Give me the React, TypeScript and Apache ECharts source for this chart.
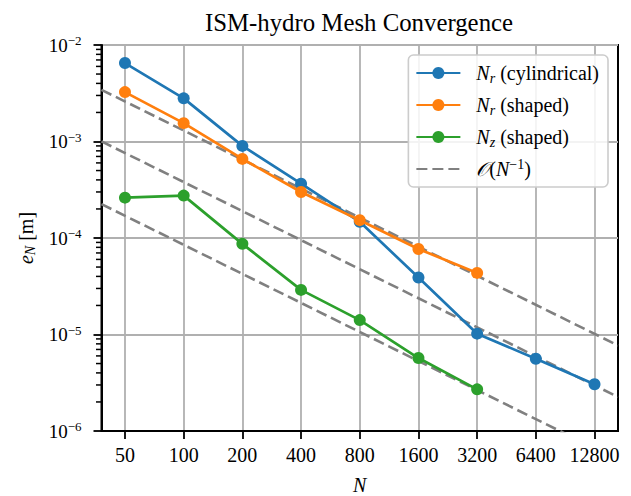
import React, { useEffect, useRef } from 'react';
import * as echarts from 'echarts';

// ---- data ----
const N_VALUES = [50, 100, 200, 400, 800, 1600, 3200, 6400, 12800];
const NR_CYLINDRICAL = [6.5e-3, 2.8e-3, 9.0e-4, 3.65e-4, 1.47e-4, 3.9e-5, 1.02e-5, 5.6e-6, 3.05e-6];
const N_SHAPED = [50, 100, 200, 400, 800, 1600, 3200];
const NR_SHAPED = [3.25e-3, 1.55e-3, 6.6e-4, 3.0e-4, 1.53e-4, 7.7e-5, 4.35e-5];
const NZ_SHAPED = [2.62e-4, 2.75e-4, 8.7e-5, 2.9e-5, 1.41e-5, 5.7e-6, 2.7e-6];
// O(N^-1) reference lines: e = C / N
const REF_CONSTANTS = [0.13, 0.038, 0.0085];
const Y_EXPONENTS = [-6, -5, -4, -3, -2];
const MINOR_MANTISSAS = [2, 3, 4, 5, 6, 7, 8, 9];
const X_PAD = 0.4; // axis margin, in doublings of N

const FONT = "'Liberation Serif', 'Times New Roman', serif";
const BLUE = '#1f77b4';
const ORANGE = '#ff7f0e';
const GREEN = '#2ca02c';
const GRAY = '#808080';
const GRID = '#b0b0b0';

const toX = (n: number) => Math.log2(n / N_VALUES[0]);

const NAME_CYL = 'N_r (cylindrical)';
const NAME_RS = 'N_r (shaped)';
const NAME_ZS = 'N_z (shaped)';
const NAME_REF = 'O(N^-1)';

const LEGEND_RICH: Record<string, string> = {
  [NAME_CYL]: '{i|N}{sub|r} (cylindrical)',
  [NAME_RS]: '{i|N}{sub|r} (shaped)',
  [NAME_ZS]: '{i|N}{sub|z} (shaped)',
  [NAME_REF]: '{cal|𝒪}({i|N}{sup|−1})',
};

const richBase = {
  i: { fontStyle: 'italic', fontSize: 20, lineHeight: 24, fontFamily: FONT, color: '#000' },
  sub: { fontStyle: 'italic', fontSize: 14, lineHeight: 14, verticalAlign: 'bottom', fontFamily: FONT, color: '#000' },
  sup: { fontSize: 14, lineHeight: 14, verticalAlign: 'top', fontFamily: FONT, color: '#000' },
  cal: { fontStyle: 'italic', fontSize: 20, lineHeight: 24, fontFamily: FONT, color: '#000' },
};

export default function App() {
  const ref = useRef<HTMLDivElement>(null);

  useEffect(() => {
    if (!ref.current) return;
    const chart = echarts.init(ref.current, null, { renderer: 'svg' });

    const xMin = -X_PAD;
    const xMax = N_VALUES.length - 1 + X_PAD;
    const xTicks = N_VALUES.map((n) => toX(n));
    const minorValues: number[] = [];
    Y_EXPONENTS.slice(0, -1).forEach((k) =>
      MINOR_MANTISSAS.forEach((m) => minorValues.push(m * Math.pow(10, k)))
    );

    const refSeries = REF_CONSTANTS.map((c) => ({
      name: NAME_REF,
      type: 'line',
      data: [xMin, xMax].map((x) => [x, c / (N_VALUES[0] * Math.pow(2, x))]),
      symbol: 'none',
      lineStyle: { color: GRAY, width: 2.6, type: [11, 5] },
      itemStyle: { color: GRAY },
      color: GRAY,
      z: 2,
      clip: true,
      silent: true,
    }));

    const mk = (name: string, ns: number[], vals: number[], color: string, z: number) => ({
      name,
      type: 'line',
      data: ns.map((n, i) => [toX(n), vals[i]]),
      symbol: 'circle',
      symbolSize: 12,
      showSymbol: true,
      color,
      lineStyle: { color, width: 2.7 },
      itemStyle: { color },
      z,
    });

    const option: any = {
      animation: false,
      backgroundColor: '#fff',
      title: {
        text: 'ISM-hydro Mesh Convergence',
        left: 354,
        top: 5,
        textAlign: 'center',
        textStyle: { fontFamily: FONT, fontSize: 24.8, fontWeight: 'normal', color: '#000' },
      },
      grid: {
        left: 101.5,
        right: 13,
        top: 45,
        bottom: 65,
        show: true,
        borderColor: '#000',
        borderWidth: 2,
        backgroundColor: 'transparent',
        containLabel: false,
        outerBoundsMode: 'none',
      },
      legend: {
        show: true,
        orient: 'vertical',
        right: 23,
        top: 55,
        itemWidth: 44,
        itemHeight: 15,
        itemGap: 8,
        padding: [6, 9, 6, 7],
        backgroundColor: 'rgba(255,255,255,0.85)',
        borderColor: '#cccccc',
        borderWidth: 1.6,
        borderRadius: 5,
        selectedMode: false,
        data: [
          NAME_CYL,
          NAME_RS,
          NAME_ZS,
          { name: NAME_REF, itemStyle: { opacity: 0, color: 'rgba(0,0,0,0)', borderWidth: 0 } },
        ],
        formatter: (name: string) => LEGEND_RICH[name] || name,
        textStyle: {
          fontFamily: FONT,
          fontSize: 20,
          lineHeight: 24,
          color: '#000',
          padding: [0, 0, 0, 11],
          rich: richBase,
        },
      },
      xAxis: {
        type: 'value',
        min: xMin,
        max: xMax,
        minInterval: 1,
        maxInterval: 1,
        axisLine: { show: true, onZero: false, lineStyle: { color: '#000', width: 2 } },
        axisTick: { show: true, inside: false, length: 8, customValues: xTicks, lineStyle: { color: '#000', width: 1.8 } },
        axisLabel: {
          show: true,
          customValues: xTicks,
          margin: 14,
          fontFamily: FONT,
          fontSize: 20,
          color: '#000',
          formatter: (v: number) => {
            const idx = Math.round(v);
            if (Math.abs(v - idx) > 1e-6 || idx < 0 || idx >= N_VALUES.length) return '';
            return String(N_VALUES[idx]);
          },
        },
        splitLine: { show: true, lineStyle: { color: GRID, width: 1.8 } },
        name: 'N',
        nameLocation: 'middle',
        nameGap: 44,
        nameTextStyle: { fontFamily: FONT, fontSize: 20, fontStyle: 'italic', color: '#000' },
      },
      yAxis: {
        type: 'log',
        logBase: 10,
        min: Math.pow(10, Y_EXPONENTS[0]),
        max: Math.pow(10, Y_EXPONENTS[Y_EXPONENTS.length - 1]),
        position: 'left',
        axisLine: { show: true, onZero: false, lineStyle: { color: '#000', width: 2 } },
        axisTick: { show: true, inside: false, length: 8, lineStyle: { color: '#000', width: 1.8 } },
        axisLabel: {
          show: true,
          margin: 20,
          formatter: (v: number) => {
            const e = Math.round(Math.log10(v));
            return `{b|10}{s|${e < 0 ? '−' : ''}${Math.abs(e)}}`;
          },
          rich: {
            b: { fontFamily: FONT, fontSize: 19, lineHeight: 22, color: '#000' },
            s: { fontFamily: FONT, fontSize: 13, lineHeight: 13, verticalAlign: 'top', color: '#000' },
          },
        },
        splitLine: { show: true, lineStyle: { color: GRID, width: 1.8 } },
        minorTick: { show: false },
        name: '{i|e}{sub|N} [m]',
        nameLocation: 'middle',
        nameRotate: 90,
        nameGap: 64,
        nameTextStyle: { fontFamily: FONT, fontSize: 20, lineHeight: 24, color: '#000', rich: richBase },
      },
      series: [
        ...refSeries,
        mk(NAME_CYL, N_VALUES, NR_CYLINDRICAL, BLUE, 3),
        mk(NAME_RS, N_SHAPED, NR_SHAPED, ORANGE, 4),
        mk(NAME_ZS, N_SHAPED, NZ_SHAPED, GREEN, 5),
      ],
    };

    chart.setOption(option);

    // minor ticks of the log axis, placed through the chart's own scales
    const axisX = chart.convertToPixel({ xAxisIndex: 0 }, xMin) as number;
    const minorLines = minorValues.map((v) => {
      const y = chart.convertToPixel({ yAxisIndex: 0 }, v) as number;
      return {
        type: 'line',
        silent: true,
        z: 10,
        shape: { x1: axisX - 5.5, y1: y, x2: axisX, y2: y },
        style: { stroke: '#000', lineWidth: 1.5 },
      };
    });
    chart.setOption({ graphic: minorLines });

    return () => chart.dispose();
  }, []);

  return <div ref={ref} style={{ position: 'absolute', left: 0, top: 0, width: 631, height: 496 }} />;
}
